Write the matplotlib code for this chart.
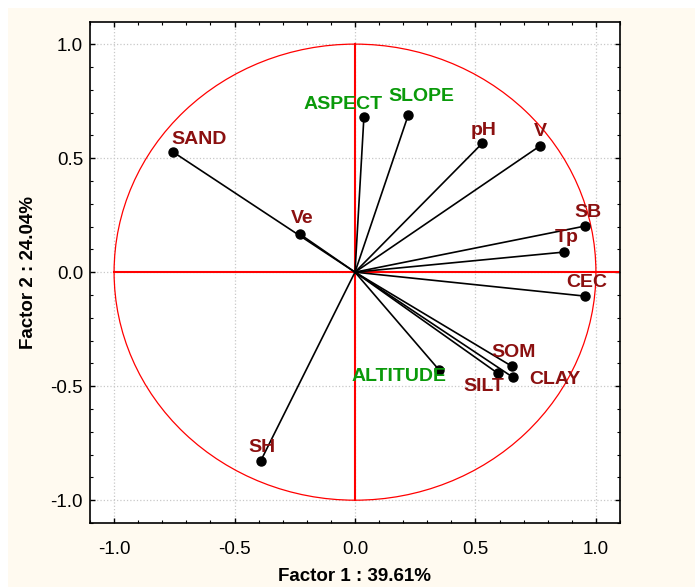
import matplotlib.pyplot as plt
import numpy as np
from matplotlib.patches import Ellipse, Rectangle
from matplotlib.ticker import MultipleLocator

plt.rcParams['font.family'] = ['Liberation Sans', 'DejaVu Sans']

# variable loadings on factor 1 and factor 2
names = ["SAND", "Ve", "SH", "ASPECT", "SLOPE", "pH", "V", "SB", "Tp",
         "CEC", "SOM", "CLAY", "SILT", "ALTITUDE"]
f1 = [-0.754, -0.229, -0.392, 0.037, 0.221, 0.529, 0.767, 0.954, 0.867,
      0.954, 0.650, 0.654, 0.592, 0.350]
f2 = [0.526, 0.167, -0.829, 0.680, 0.689, 0.566, 0.553, 0.202, 0.088,
      -0.105, -0.412, -0.460, -0.443, -0.430]
kind = ["soil", "soil", "soil", "topo", "topo", "soil", "soil", "soil", "soil",
        "soil", "soil", "soil", "soil", "topo"]
# label offsets in pixels (dx, dy) from each point
offsets = [(26, 13), (2, 16), (1, 14), (-21, 13), (13, 19), (1, 13), (1, 15),
           (3, 14), (3, 15), (2, 14), (2, 14), (42, -2), (-14, -13), (-40, -6)]

red_text = "#8b1010"
green_text = "#0a9a0a"

fig = plt.figure(figsize=(6.95, 5.87), dpi=100, facecolor="white")
fig.patches.append(Rectangle((8 / 695, 0), 1, 1 - 8 / 587, transform=fig.transFigure,
                             facecolor="#fffaf0", edgecolor="none", zorder=-1))
ax = fig.add_axes([90 / 695, 1 - 523 / 587, 530 / 695, 501 / 587])
ax.set_facecolor("white")

ax.set_xlim(-1.1, 1.1)
ax.set_ylim(-1.10, 1.097)

ax.grid(True, color="#c8c8c8", linestyle=":", linewidth=0.9)
ax.set_axisbelow(True)

ax.add_patch(Ellipse((0, 0), 2, 2, fill=False, edgecolor="red", linewidth=0.9, zorder=2))
ax.plot([-1, 1.1], [0, 0], color="red", linewidth=1.5, zorder=2)
ax.plot([0, 0], [-1, 1], color="red", linewidth=1.5, zorder=2)

for i in range(len(names)):
    ax.plot([0, f1[i]], [0, f2[i]], color="black", linewidth=1.2, zorder=3)
    ax.plot(f1[i], f2[i], "o", color="black", markersize=6.5, zorder=4)
    col = green_text if kind[i] == "topo" else red_text
    ax.annotate(names[i], (f1[i], f2[i]), xytext=offsets[i], textcoords="offset pixels",
                ha="center", va="center", fontsize=14, fontweight="bold", color=col,
                zorder=5)

ax.xaxis.set_major_locator(MultipleLocator(0.5))
ax.xaxis.set_minor_locator(MultipleLocator(0.1))
ax.yaxis.set_major_locator(MultipleLocator(0.5))
ax.yaxis.set_minor_locator(MultipleLocator(0.1))
ax.xaxis.set_major_formatter(lambda v, p: f"{v:.1f}")
ax.yaxis.set_major_formatter(lambda v, p: f"{v:.1f}")
ax.tick_params(which="both", direction="in", top=True, right=True, labelsize=13.5)
ax.tick_params(which="major", length=3.5, width=1)
ax.tick_params(which="minor", length=2, width=0.8)
ax.tick_params(axis="x", which="major", pad=13)
ax.tick_params(axis="y", which="major", pad=5)
for s in ax.spines.values():
    s.set_linewidth(1.2)

ax.set_xlabel("Factor 1 : 39.61%", fontsize=13.5, fontweight="bold", labelpad=7)
ax.set_ylabel("Factor 2 : 24.04%", fontsize=13.5, fontweight="bold", labelpad=10)

fig.savefig("out.png", dpi=100, facecolor=fig.get_facecolor())
